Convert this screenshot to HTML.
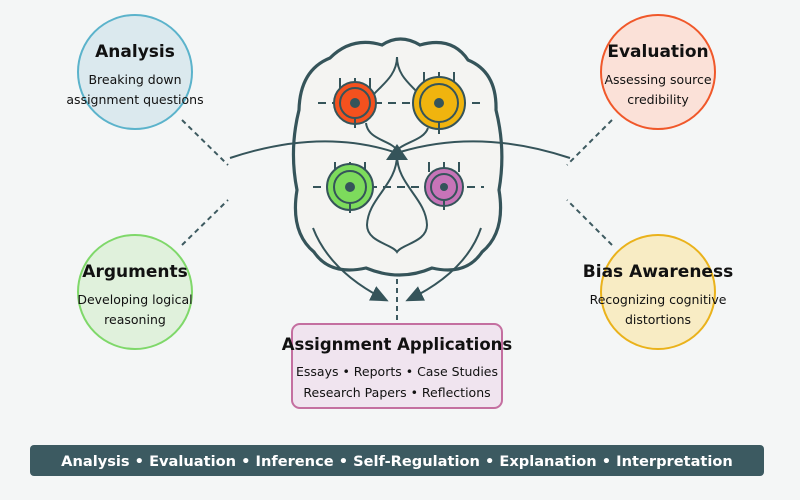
<!DOCTYPE html>
<html><head><meta charset="utf-8"><style>
html,body{margin:0;padding:0;background:#f4f6f6;}
svg{display:block;font-family:"DejaVu Sans","Liberation Sans",sans-serif;}
</style></head><body>
<svg width="800" height="500" viewBox="0 0 800 500" xmlns="http://www.w3.org/2000/svg">
<rect width="800" height="500" fill="#f4f6f6"/>
<defs>
<marker id="ah" markerWidth="18" markerHeight="16" refX="15" refY="8" orient="auto" markerUnits="userSpaceOnUse">
<path d="M0,0 L18,8 L0,16 Z" fill="#35545a"/></marker>
</defs>
<g stroke="#3d5a60" stroke-width="2" stroke-dasharray="5,4" fill="none">
<line x1="182" y1="120" x2="228" y2="165"/>
<line x1="182" y1="245" x2="228" y2="200"/>
<line x1="612" y1="120" x2="567" y2="165"/>
<line x1="612" y1="245" x2="567" y2="200"/>
<line x1="397" y1="252" x2="397" y2="322"/>
</g>
<circle cx="135" cy="72" r="57" fill="#dbe9ee" stroke="#5bb3cb" stroke-width="2"/>
<circle cx="658" cy="72" r="57" fill="#fbe1d8" stroke="#f0582a" stroke-width="2"/>
<circle cx="135" cy="292" r="57" fill="#e0f1dc" stroke="#7fd86a" stroke-width="2"/>
<circle cx="658" cy="292" r="57" fill="#f8ecc4" stroke="#eab21b" stroke-width="2"/>
<g text-anchor="middle" fill="#111">
<text x="135" y="57" font-size="17" font-weight="bold">Analysis</text>
<text x="135" y="84" font-size="12.5">Breaking down</text>
<text x="135" y="104" font-size="12.5">assignment questions</text>
<text x="658" y="57" font-size="17" font-weight="bold">Evaluation</text>
<text x="658" y="84" font-size="12.5">Assessing source</text>
<text x="658" y="104" font-size="12.5">credibility</text>
<text x="135" y="277" font-size="17" font-weight="bold">Arguments</text>
<text x="135" y="304" font-size="12.5">Developing logical</text>
<text x="135" y="324" font-size="12.5">reasoning</text>
<text x="658" y="277" font-size="17" font-weight="bold">Bias Awareness</text>
<text x="658" y="304" font-size="12.5">Recognizing cognitive</text>
<text x="658" y="324" font-size="12.5">distortions</text>
</g>
<path d="M330 58 Q352 36 382 45 Q400 33 420 45 Q452 36 468 60 Q497 72 496 110 Q506 150 499 190 Q506 232 482 252 Q466 276 432 268 Q400 282 366 268 Q330 276 314 252 Q290 232 297 190 Q289 150 299 110 Q300 70 330 58 Z" fill="#f4f4f2" stroke="#35545a" stroke-width="3.2"/>
<g stroke="#35545a" stroke-width="2" fill="none">
<path d="M397 57 C397 75 382 85 374 94"/>
<path d="M397 57 C397 75 410 84 418 93"/>
<path d="M366 123 C368 140 390 140 397 150"/>
<path d="M428 128 C424 140 405 142 397 150"/>
<path d="M397 155 C397 185 368 198 367 225 C367 242 392 244 397 252 C402 244 427 242 427 225 C426 198 397 185 397 155"/>
<path d="M230 158 Q320 128 394 152"/>
<path d="M570 158 Q480 128 400 152"/>
<path d="M313 228 Q330 272 386 300" marker-end="url(#ah)"/>
<path d="M481 228 Q466 272 408 300" marker-end="url(#ah)"/>
</g>
<polygon points="386,160 408,160 397,144" fill="#35545a"/>
<g stroke="#35545a" stroke-width="2" stroke-dasharray="8,6">
<line x1="318" y1="103" x2="482" y2="103"/>
<line x1="313" y1="187" x2="484" y2="187"/>
</g>
<g stroke="#35545a" stroke-width="2">
<line x1="340" y1="78" x2="340" y2="88"/><line x1="355" y1="78" x2="355" y2="88"/><line x1="370" y1="78" x2="370" y2="88"/>
<line x1="424" y1="72" x2="424" y2="82"/><line x1="439" y1="72" x2="439" y2="82"/><line x1="454" y1="72" x2="454" y2="82"/>
<line x1="335" y1="162" x2="335" y2="172"/><line x1="350" y1="162" x2="350" y2="172"/><line x1="365" y1="162" x2="365" y2="172"/>
<line x1="429" y1="162" x2="429" y2="172"/><line x1="444" y1="162" x2="444" y2="172"/><line x1="459" y1="162" x2="459" y2="172"/>
</g>
<g stroke="#35545a" stroke-width="2">
<circle cx="355" cy="103" r="21" fill="#f4511e"/><circle cx="355" cy="103" r="15" fill="none"/>
<line x1="355" y1="118" x2="355" y2="128"/>
<circle cx="439" cy="103" r="26" fill="#f0b40e"/><circle cx="439" cy="103" r="19" fill="none"/>
<line x1="439" y1="122" x2="439" y2="134"/>
<circle cx="350" cy="187" r="23" fill="#7ddb5c"/><circle cx="350" cy="187" r="16" fill="none"/>
<line x1="350" y1="203" x2="350" y2="213"/>
<circle cx="444" cy="187" r="19" fill="#c774b8"/><circle cx="444" cy="187" r="13" fill="none"/>
<line x1="444" y1="200" x2="444" y2="210"/>
</g>
<circle cx="355" cy="103" r="5" fill="#35545a"/>
<circle cx="439" cy="103" r="5" fill="#35545a"/>
<circle cx="350" cy="187" r="5" fill="#35545a"/>
<circle cx="444" cy="187" r="4" fill="#35545a"/>
<rect x="292" y="324" width="210" height="84" rx="8" fill="#f0e4ef" stroke="#c46fa0" stroke-width="2"/>
<g text-anchor="middle" fill="#111">
<text x="397" y="350" font-size="16.5" font-weight="bold">Assignment Applications</text>
<text x="397" y="376" font-size="12.5">Essays • Reports • Case Studies</text>
<text x="397" y="397" font-size="12.5">Research Papers • Reflections</text>
</g>
<rect x="30" y="445" width="734" height="31" rx="4" fill="#3c5a61"/>
<text x="397" y="466" text-anchor="middle" font-size="14.6" font-weight="bold" fill="#ffffff">Analysis • Evaluation • Inference • Self-Regulation • Explanation • Interpretation</text>
</svg>
</body></html>
